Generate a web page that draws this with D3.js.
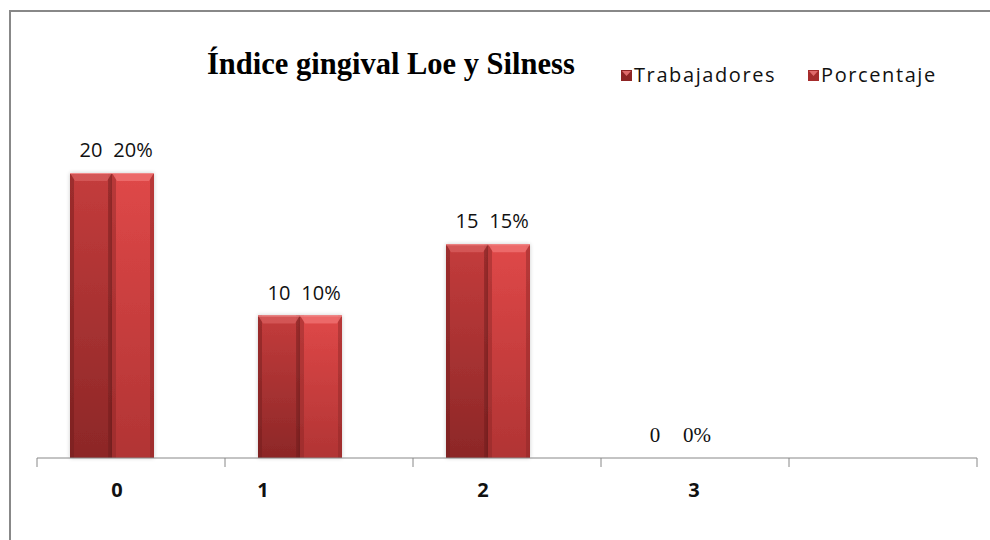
<!DOCTYPE html>
<html>
<head>
<meta charset="utf-8">
<script src="https://cdn.jsdelivr.net/npm/d3@7"></script>
<style>
  body { margin: 0; background: #fff; }
</style>
</head>
<body>
<svg id="chart"></svg>
<script>
const categories = ["0", "1", "2", "3", ""];
const seriesNames = ["Trabajadores", "Porcentaje"];
const trabajadores = [20, 10, 15, 0];
const porcentaje = [20, 10, 15, 0];
const labelNudge = [5, -37, -5, 18]; // where the category labels sit vs. bar centre

const width = 990, height = 540;
const axisY = 458;

const svg = d3.select("#chart")
    .attr("width", width)
    .attr("height", height);

const defs = svg.append("defs");
const palettes = [
    { top: "#c43c3c", bottom: "#8c2727", edge: "#6e1c1c", bevel: "#d65a5a" },
    { top: "#df4848", bottom: "#b13434", edge: "#8a2626", bevel: "#ee7070" }
];
palettes.forEach((p, i) => {
    const g = defs.append("linearGradient").attr("id", "body" + i)
        .attr("x1", 0).attr("y1", 0).attr("x2", 0).attr("y2", 1);
    g.append("stop").attr("offset", "0%").attr("stop-color", p.top);
    g.append("stop").attr("offset", "100%").attr("stop-color", p.bottom);
});
const shadow = defs.append("filter").attr("id", "shadow")
    .attr("x", "-20%").attr("y", "-5%").attr("width", "140%").attr("height", "110%");
shadow.append("feGaussianBlur").attr("in", "SourceAlpha").attr("stdDeviation", 2);
shadow.append("feComponentTransfer").append("feFuncA").attr("type", "linear").attr("slope", 0.2);
const merge = shadow.append("feMerge");
merge.append("feMergeNode");
merge.append("feMergeNode").attr("in", "SourceGraphic");

// outer frame (right and bottom edges fall outside the picture)
svg.append("rect")
    .attr("x", 10).attr("y", 11)
    .attr("width", 990).attr("height", 540)
    .attr("fill", "none")
    .attr("stroke", "#888")
    .attr("stroke-width", 2);

const x = d3.scaleBand()
    .domain(categories)
    .range([37, 977])
    .padding(0);

const xs = d3.scaleBand()
    .domain(seriesNames)
    .range([33, 117]);

const y = d3.scaleLinear()
    .domain([0, 20])
    .range([axisY, 173]);

const data = categories.slice(0, 4).map((c, i) => ({
    cat: c,
    values: [trabajadores[i], porcentaje[i]]
}));

// bars
const groups = svg.selectAll("g.cat")
    .data(data)
    .enter()
    .append("g")
    .attr("class", "cat")
    .attr("transform", d => `translate(${x(d.cat)},0)`);

groups.each(function (d) {
    const g = d3.select(this);
    d.values.forEach((v, si) => {
        const bx = xs(seriesNames[si]);
        const bw = xs.bandwidth();
        const by = y(v);
        const bh = axisY - by;
        if (bh <= 0) return;
        const p = palettes[si];
        const bar = g.append("g").attr("filter", "url(#shadow)");
        bar.append("rect")
            .attr("x", bx).attr("y", by)
            .attr("width", bw).attr("height", bh)
            .attr("fill", `url(#body${si})`);
        // side edges
        bar.append("rect")
            .attr("x", bx).attr("y", by)
            .attr("width", 4).attr("height", bh)
            .attr("fill", p.edge).attr("opacity", 0.45);
        bar.append("rect")
            .attr("x", bx + bw - 4).attr("y", by)
            .attr("width", 4).attr("height", bh)
            .attr("fill", p.edge).attr("opacity", 0.45);
        // top bevel
        bar.append("path")
            .attr("d", `M${bx},${by} L${bx + bw},${by} L${bx + bw - 5},${by + 8} L${bx + 5},${by + 8} Z`)
            .attr("fill", p.bevel).attr("opacity", 0.85);
        bar.append("line")
            .attr("x1", bx).attr("x2", bx + bw)
            .attr("y1", by + 0.5).attr("y2", by + 0.5)
            .attr("stroke", "#f08a8a").attr("stroke-width", 1);
    });

    // value labels
    d.values.forEach((v, si) => {
        g.append("text")
            .attr("x", xs(seriesNames[si]) + xs.bandwidth() / 2)
            .attr("y", y(v) - 16)
            .attr("text-anchor", "middle")
            .style("font-family", v === 0 ? "'Liberation Serif', serif" : "'Open Sans', 'Liberation Sans', sans-serif")
            .style("font-size", v === 0 ? "21px" : "20px")
            .style("fill", "#111")
            .text(si === 1 ? v + "%" : v);
    });
});

// x axis
const axis = svg.append("g")
    .attr("transform", `translate(0,${axisY})`)
    .call(d3.axisBottom(x).tickValues([]).tickSizeOuter(0));
axis.select(".domain").attr("stroke", "#888").attr("d", "M37,0H977");
axis.selectAll(".tk")
    .data(x.domain().concat(["end"]))
    .enter()
    .append("line")
    .attr("class", "tk")
    .attr("x1", (d, i) => i < categories.length ? x(d) : x.range()[1])
    .attr("x2", (d, i) => i < categories.length ? x(d) : x.range()[1])
    .attr("y1", 0).attr("y2", 9)
    .attr("stroke", "#888");

svg.selectAll("text.cat-label")
    .data(data)
    .enter()
    .append("text")
    .attr("class", "cat-label")
    .attr("x", (d, i) => x(d.cat) + 75 + labelNudge[i])
    .attr("y", 497)
    .attr("text-anchor", "middle")
    .style("font-family", "'Open Sans', 'Liberation Sans', sans-serif")
    .style("font-weight", "bold")
    .style("font-size", "20px")
    .style("fill", "#111")
    .text(d => d.cat);

// title
svg.append("text")
    .attr("x", 207)
    .attr("y", 74)
    .style("font-family", "'Liberation Serif', 'Times New Roman', serif")
    .style("font-weight", "bold")
    .style("font-size", "30.5px")
    .style("fill", "#000")
    .text("Índice gingival Loe y Silness");

// legend
const legendX = [621, 808];
const legend = svg.selectAll("g.legend")
    .data(seriesNames)
    .enter()
    .append("g")
    .attr("class", "legend")
    .attr("transform", (d, i) => `translate(${legendX[i]},70)`);
legend.append("rect")
    .attr("width", 11).attr("height", 11)
    .attr("fill", (d, i) => i === 0 ? "#8e2424" : "#a52c2c");
legend.append("path")
    .attr("d", "M1,1 L10,1 L5.5,6 Z")
    .attr("fill", "#e06a6a");
legend.append("text")
    .attr("x", 13)
    .attr("y", 12)
    .style("font-family", "'Open Sans', 'Liberation Sans', sans-serif")
    .style("font-size", "20px")
    .style("letter-spacing", "1.6px")
    .style("fill", "#111")
    .text(d => d);
</script>
</body>
</html>
